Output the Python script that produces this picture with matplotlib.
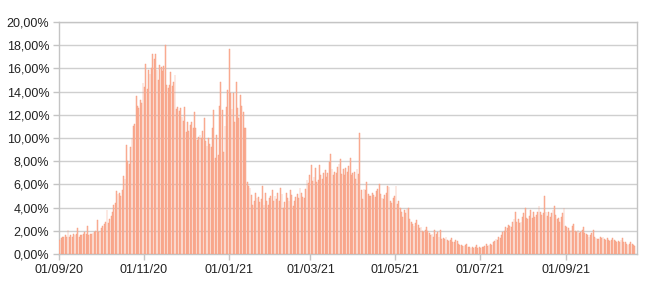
import matplotlib
matplotlib.use("Agg")
import matplotlib.pyplot as plt
import numpy as np
from matplotlib.ticker import FuncFormatter

# Daily positivity (%) from 01/09/2020
sep20 = [1.2,1.4,1.5,1.5,1.6,1.5,2.1, 1.5,1.6,1.5,1.7,1.6,1.7,2.2, 1.5,1.6,1.6,1.7,1.9,1.7,2.4,
         1.6,1.7,1.7,1.8,1.9,2.0,2.9, 1.9,2.0]
oct20 = [2.2,2.4,2.6,2.8,3.8, 2.7,3.0,3.3,3.6,4.2,4.4,5.4, 5.2,5.3,5.0,5.5,6.7,6.5,9.4,
         8.0,7.8,9.2,10.0,11.0,11.2,13.6, 12.8,12.6,13.3,13.0,14.7]
nov20 = [14.4,16.4, 14.2,15.9,15.5,16.0,17.2,16.8,17.2, 15.9,15.0,16.3,16.1,15.8,16.2,18.0,
         14.6,14.3,14.6,15.7,14.5,14.8,15.4, 12.5,12.7,12.3,12.6,11.8,11.5,12.7]
dec20 = [10.5,11.4,10.6,11.1,11.4,10.9,12.2, 10.9,9.8,10.1,10.3,10.0,10.6,11.7,
         9.7,9.3,10.0,9.5,9.2,10.9,12.4, 8.3,10.3,8.5,12.8,14.8,12.4,8.8, 11.0,12.7,14.1]
jan21 = [17.7,13.9,12.5,13.9, 11.4,14.8,12.6,11.7,13.7,12.8,12.2, 10.9,10.9,6.2,5.9,5.7,5.1,4.2,
         4.6,5.3,4.8,4.9,4.5,4.7,5.9, 4.2,5.3,4.6,4.2,4.8,5.0]
feb21 = [5.5, 4.6,5.0,4.7,5.3,4.6,5.7,5.2, 4.0,4.5,5.3,4.8,4.6,5.5,5.1,
         4.1,4.6,4.9,5.2,4.8,5.7,5.3, 4.9,4.8,5.6,6.4,6.1,6.8]
mar21 = [7.7, 6.3,6.6,7.4,6.2,6.4,7.7,6.8, 6.5,7.0,7.2,6.6,7.0,7.9,8.6,
         7.3,6.8,7.1,7.0,7.5,7.8,8.2, 6.9,7.3,6.8,7.4,7.1,7.6,8.3, 6.8,7.0]
apr21 = [7.1,6.5,7.3,6.9,10.4, 5.5,4.7,5.6,5.5,6.2,5.2,5.0, 5.0,5.3,5.1,4.9,5.4,5.6,6.0,
         5.2,4.8,4.7,5.1,5.3,5.9,5.8, 4.6,4.4,4.8,5.0]
may21 = [5.9,4.3,4.6, 4.0,3.6,3.2,3.8,3.5,3.9,4.0, 3.0,2.8,2.6,2.4,2.7,2.9,2.5,
         2.2,2.3,2.0,1.9,2.1,2.3,2.0, 1.8,1.6,1.7,1.5,2.1,1.7,1.9]
jun21 = [1.5,2.1,1.3,1.4,1.3,1.5,1.2, 1.1,1.2,1.4,1.0,1.0,1.2,1.1, 0.9,0.8,0.8,0.7,0.7,0.8,0.9,
         0.6,0.6,0.5,0.6,0.5,0.6,0.8, 0.5,0.6]
jul21 = [0.5,0.6,0.6,0.7,0.9, 0.7,0.8,0.9,0.8,1.0,1.1,1.3, 1.2,1.5,1.4,1.6,1.9,2.0,2.3,
         2.2,2.5,2.4,2.3,2.8,3.0,3.6, 2.8,3.0,2.7,2.8,3.2]
aug21 = [3.5,4.0, 3.1,3.0,3.3,3.8,3.1,3.6,3.2, 3.4,3.6,4.1,3.6,3.4,3.5,5.0,
         3.6,3.3,3.6,3.2,3.5,3.8,4.1, 3.4,3.0,3.1,2.8,3.2,3.5,4.0, 2.4]
sep21 = [2.3,2.2,2.0,2.1,2.4,2.6, 2.0,1.9,2.1,1.8,1.9,2.1,2.3, 1.8,1.7,1.6,1.5,1.6,1.8,2.1,
         1.5,1.4,1.3,1.3,1.5,1.4,1.5, 1.3,1.2,1.4]
oct21 = [1.2,1.1,1.2,1.4, 1.2,1.1,1.0,1.1,1.0,1.2,1.4, 1.0,1.0,0.9,0.8,0.9,1.0,0.9, 0.8,0.7]

tick_labels = ["01/09/20", "01/11/20", "01/01/21", "01/03/21", "01/05/21", "01/07/21", "01/09/21"]
tick_days = [0, 61, 122, 181, 242, 303, 365]

values = np.array(sep20 + oct20 + nov20 + dec20 + jan21 + feb21 + mar21 + apr21 +
                  may21 + jun21 + jul21 + aug21 + sep21 + oct21)
days = np.arange(len(values)) + 0.5

plt.rcParams['font.family'] = ['Liberation Sans', 'DejaVu Sans']
fig = plt.figure(figsize=(6.5, 2.87), dpi=100)
ax = fig.add_axes([59/650, 33/287, 578/650, 232/287])

ax.bar(days, values, width=0.62, color='#FDB8A0', edgecolor='#F5987A', linewidth=0.3, zorder=3)

ax.set_xlim(0, 416)
ax.set_ylim(0, 20)
ax.set_yticks(np.arange(0, 21, 2))
ax.yaxis.set_major_formatter(FuncFormatter(lambda v, p: f"{v:.2f}".replace('.', ',') + "%"))
ax.set_xticks(tick_days)
ax.set_xticklabels(tick_labels)

ax.grid(axis='y', color='#CFCFCF', linewidth=1.0, zorder=0)
for s in ax.spines.values():
    s.set_color('#C4C4C4')
    s.set_linewidth(1.0)
ax.tick_params(axis='both', colors='#C4C4C4', labelcolor='#222222', labelsize=9,
               length=4, width=1.0)
ax.tick_params(axis='y', pad=3)
ax.tick_params(axis='x', pad=3)

fig.savefig("out.png", dpi=100, facecolor='white')
